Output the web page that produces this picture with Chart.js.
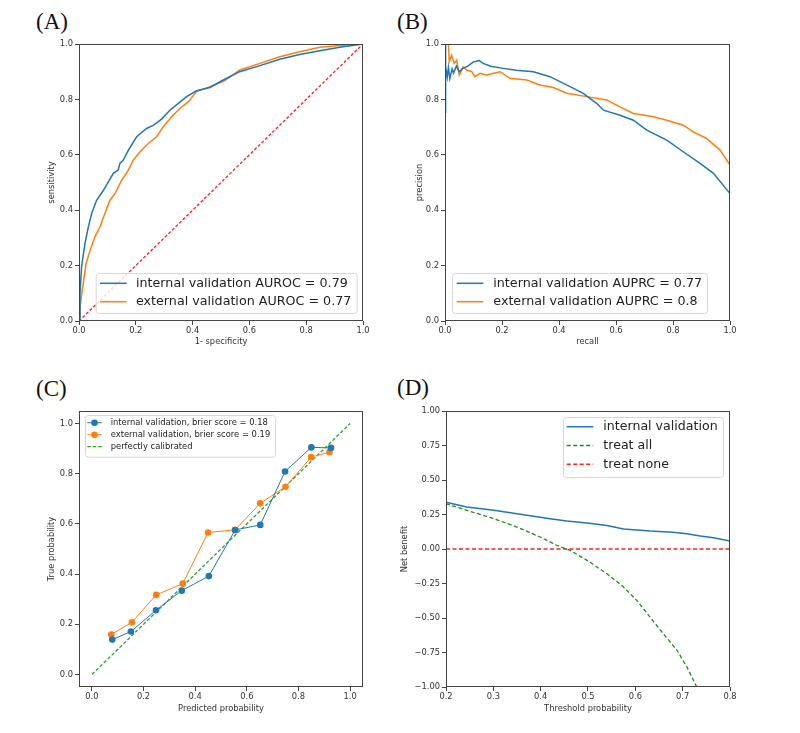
<!DOCTYPE html>
<html>
<head>
<meta charset="utf-8">
<script src="https://cdn.jsdelivr.net/npm/chart.js@4.4.0/dist/chart.umd.min.js"></script>
<style>
  body { margin: 0; background: #fff; }
  #page { position: relative; width: 800px; height: 733px; }
  canvas { position: absolute; }
  .tag { position: absolute; font-family: "Liberation Serif", serif; font-size: 23px; line-height: 23px; color: #111; }
</style>
</head>
<body>
<div id="page">
  <div class="tag" style="left:36px;top:10px">(A)</div>
  <div class="tag" style="left:397px;top:10px">(B)</div>
  <div class="tag" style="left:36px;top:377px">(C)</div>
  <div class="tag" style="left:397px;top:376px">(D)</div>
  <canvas id="chartRoc" width="400" height="366" style="left:0;top:0"></canvas>
  <canvas id="chartPr" width="400" height="366" style="left:400px;top:0"></canvas>
  <canvas id="chartCal" width="400" height="367" style="left:0;top:366px"></canvas>
  <canvas id="chartDca" width="400" height="367" style="left:400px;top:366px"></canvas>
</div>
<script>
// ROC (A)
var rocFprInt = [0, 0.0035, 0.009, 0.021, 0.033, 0.045, 0.062, 0.086, 0.109, 0.121, 0.138, 0.144, 0.156, 0.174, 0.203, 0.238, 0.261, 0.29, 0.32, 0.343, 0.379, 0.414, 0.461, 0.508, 0.566, 0.637, 0.707, 0.777, 0.848, 0.918, 1];
var rocTprInt = [0, 0.099, 0.195, 0.28, 0.34, 0.39, 0.436, 0.472, 0.512, 0.533, 0.545, 0.569, 0.581, 0.617, 0.665, 0.695, 0.706, 0.728, 0.761, 0.78, 0.81, 0.831, 0.843, 0.87, 0.9, 0.922, 0.945, 0.962, 0.976, 0.988, 1];
var rocFprExt = [0, 0.0035, 0.013, 0.025, 0.039, 0.056, 0.074, 0.091, 0.109, 0.127, 0.15, 0.174, 0.191, 0.215, 0.244, 0.273, 0.297, 0.326, 0.355, 0.385, 0.414, 0.461, 0.508, 0.566, 0.637, 0.707, 0.777, 0.848, 0.918, 1];
var rocTprExt = [0, 0.05, 0.123, 0.207, 0.255, 0.304, 0.34, 0.388, 0.436, 0.46, 0.508, 0.545, 0.581, 0.611, 0.641, 0.665, 0.701, 0.737, 0.767, 0.792, 0.828, 0.846, 0.864, 0.906, 0.93, 0.954, 0.972, 0.988, 0.995, 1];
var chanceLine = [0, 1];

// precision-recall (B)
var prRecInt = [0, 0.001, 0.003, 0.008, 0.012, 0.017, 0.025, 0.03, 0.04, 0.05, 0.06, 0.08, 0.1, 0.12, 0.134, 0.16, 0.205, 0.25, 0.31, 0.368, 0.439, 0.485, 0.532, 0.556, 0.614, 0.661, 0.708, 0.778, 0.836, 0.895, 0.942, 1];
var prPrecInt = [1, 0.75, 0.92, 0.88, 0.915, 0.875, 0.91, 0.895, 0.92, 0.9, 0.91, 0.92, 0.935, 0.94, 0.93, 0.92, 0.912, 0.905, 0.9, 0.882, 0.846, 0.822, 0.786, 0.761, 0.743, 0.725, 0.689, 0.653, 0.611, 0.569, 0.533, 0.46];
var prRecExt = [0.012, 0.015, 0.023, 0.032, 0.041, 0.05, 0.064, 0.076, 0.094, 0.105, 0.123, 0.146, 0.193, 0.228, 0.287, 0.333, 0.38, 0.427, 0.497, 0.567, 0.614, 0.661, 0.731, 0.778, 0.836, 0.871, 0.918, 0.965, 1];
var prPrecExt = [1, 0.936, 0.96, 0.93, 0.942, 0.888, 0.918, 0.906, 0.9, 0.882, 0.894, 0.888, 0.9, 0.876, 0.87, 0.852, 0.843, 0.822, 0.81, 0.798, 0.773, 0.749, 0.737, 0.725, 0.707, 0.683, 0.659, 0.617, 0.563];

// calibration (C)
var calPredInt = [0.079, 0.151, 0.248, 0.348, 0.453, 0.555, 0.652, 0.748, 0.85, 0.926];
var calTrueInt = [0.139, 0.171, 0.256, 0.334, 0.392, 0.576, 0.596, 0.809, 0.905, 0.903];
var calPredExt = [0.075, 0.155, 0.249, 0.352, 0.45, 0.554, 0.652, 0.75, 0.849, 0.92];
var calTrueExt = [0.159, 0.208, 0.317, 0.362, 0.566, 0.576, 0.682, 0.748, 0.866, 0.886];

// decision curve (D)
var dcaThrModel = [0.2, 0.244, 0.301, 0.336, 0.385, 0.42, 0.455, 0.498, 0.54, 0.575, 0.596, 0.631, 0.68, 0.709, 0.737, 0.765, 0.8];
var dcaNbModel = [0.338, 0.304, 0.28, 0.263, 0.237, 0.22, 0.203, 0.188, 0.171, 0.145, 0.14, 0.13, 0.121, 0.111, 0.094, 0.082, 0.058];
var dcaThrAll = [0.2, 0.244, 0.301, 0.35, 0.399, 0.434, 0.462, 0.498, 0.54, 0.575, 0.603, 0.631, 0.659, 0.688, 0.709, 0.728, 0.735];
var dcaNbAll = [0.328, 0.28, 0.22, 0.159, 0.087, 0.027, -0.01, -0.082, -0.179, -0.275, -0.372, -0.493, -0.614, -0.734, -0.855, -0.988, -1.02];
var dcaThrNone = [0.2, 0.8];
var dcaNbNone = [0, 0];

var unitTicks = [0, 0.2, 0.4, 0.6, 0.8, 1];
var dcaXTicks = [0.2, 0.3, 0.4, 0.5, 0.6, 0.7, 0.8];
var dcaYTicks = [-1, -0.75, -0.5, -0.25, 0, 0.25, 0.5, 0.75, 1];

Chart.defaults.font.family = "'DejaVu Sans', sans-serif";
Chart.defaults.font.size = 8.3;
Chart.defaults.color = "#333";

function pts(xs, ys) {
    return xs.map(function (x, i) { return {x: x, y: ys[i]}; });
}

// axes frame (all four spines)
var frame = {
    id: "frame",
    afterDatasetsDraw: function (chart) {
        var a = chart.chartArea, ctx = chart.ctx;
        ctx.save();
        ctx.strokeStyle = "#444";
        ctx.lineWidth = 1;
        ctx.strokeRect(Math.round(a.left) + 0.5, Math.round(a.top) + 0.5,
            Math.round(a.right - a.left) - 1, Math.round(a.bottom - a.top) - 1);
        ctx.restore();
    },
};

// matplotlib style legend box inside the axes
var boxLegend = {
    id: "boxLegend",
    afterDatasetsDraw: function (chart, args, o) {
        if (!o || o.w == null) return;
        var ctx = chart.ctx, a = chart.chartArea;
        var x = a.left + o.x, y = a.top + o.y;
        var n = o.rows || chart.data.datasets.length;
        ctx.save();
        ctx.fillStyle = "rgba(255,255,255,0.8)";
        ctx.strokeStyle = "#d6d6d6";
        ctx.lineWidth = 1;
        ctx.beginPath();
        ctx.roundRect(x + 0.5, y + 0.5, o.w, o.h, 3);
        ctx.fill();
        ctx.stroke();
        ctx.font = o.size + "px 'DejaVu Sans'";
        ctx.textBaseline = "middle";
        chart.data.datasets.slice(0, n).forEach(function (ds, i) {
            var cy = y + o.first + i * o.step;
            ctx.strokeStyle = ds.borderColor;
            ctx.lineWidth = ds.borderWidth;
            ctx.setLineDash(ds.borderDash || []);
            ctx.beginPath();
            ctx.moveTo(x + o.l0, cy);
            ctx.lineTo(x + o.l1, cy);
            ctx.stroke();
            ctx.setLineDash([]);
            if (ds.pointRadius) {
                ctx.fillStyle = ds.borderColor;
                ctx.beginPath();
                ctx.arc(x + (o.l0 + o.l1) / 2, cy, ds.pointRadius, 0, 2 * Math.PI);
                ctx.fill();
            }
            ctx.fillStyle = "#222";
            ctx.fillText(ds.label, x + o.tx, cy);
        });
        ctx.restore();
    },
};
Chart.register(frame, boxLegend);

function axis(o) {
    return {
        type: "linear",
        min: o.min,
        max: o.max,
        afterBuildTicks: function (s) { s.ticks = o.ticks.map(function (v) { return {value: v}; }); },
        afterFit: function (s) { if (o.size != null) { if (s.isHorizontal()) s.height = o.size; else s.width = o.size; } },
        grid: {drawOnChartArea: false, drawTicks: true, tickLength: 4, color: "#444"},
        border: {display: false},
        ticks: {padding: o.horizontal ? 1 : 2, color: "#333", maxRotation: 0, autoSkip: false, callback: o.fmt},
        title: {display: true, text: o.title, color: "#333", padding: o.titlePad},
    };
}

function fmt1(v) { return v.toFixed(1); }
function fmt2(v) { return (v < 0 ? "\u2212" : "") + Math.abs(v).toFixed(2); }

function baseOptions(pad, xAxis, yAxis, legendBox) {
    return {
        responsive: false,
        animation: false,
        layout: {padding: pad},
        elements: {point: {radius: 0}, line: {tension: 0}},
        scales: {x: xAxis, y: yAxis},
        plugins: {legend: {display: false}, tooltip: {enabled: false}, boxLegend: legendBox},
    };
}

var ctxRoc = document.getElementById("chartRoc").getContext("2d");
var chartRoc = new Chart(ctxRoc, {
    type: "line",
    data: {
        datasets: [{
            label: "internal validation AUROC = 0.79",
            data: pts(rocFprInt, rocTprInt),
            borderColor: "#1f77b4",
            borderWidth: 1.5,
        }, {
            label: "external validation AUROC = 0.77",
            data: pts(rocFprExt, rocTprExt),
            borderColor: "#ff7f0e",
            borderWidth: 1.5,
        }, {
            label: "",
            data: pts(chanceLine, chanceLine),
            borderColor: "#ff1a1a",
            borderWidth: 1.3,
            borderDash: [3, 2],
        }],
    },
    options: baseOptions(
        {left: 0, top: 44, right: 37, bottom: 15},
        axis({min: 0, max: 1, ticks: unitTicks, fmt: fmt1, size: 30, horizontal: true, title: "1- specificity", titlePad: {bottom: 4.3}}),
        axis({min: 0, max: 1, ticks: unitTicks, fmt: fmt1, size: 79, title: "sensitivity", titlePad: {top: 46.7}}),
        {x: 16.7, y: 229, w: 261, h: 40, first: 10.3, step: 18.4, l0: 4.3, l1: 31, tx: 40.3, size: 12.7, rows: 2}
    ),
});

var ctxPr = document.getElementById("chartPr").getContext("2d");
var chartPr = new Chart(ctxPr, {
    type: "line",
    data: {
        datasets: [{
            label: "internal validation AUPRC = 0.77",
            data: pts(prRecInt, prPrecInt),
            borderColor: "#1f77b4",
            borderWidth: 1.5,
        }, {
            label: "external validation AUPRC = 0.8",
            data: pts(prRecExt, prPrecExt),
            borderColor: "#ff7f0e",
            borderWidth: 1.5,
        }],
    },
    options: baseOptions(
        {left: 0, top: 44, right: 70, bottom: 15},
        axis({min: 0, max: 1, ticks: unitTicks, fmt: fmt1, size: 30, horizontal: true, title: "recall", titlePad: {bottom: 4.3}}),
        axis({min: 0, max: 1, ticks: unitTicks, fmt: fmt1, size: 45, title: "precision", titlePad: {top: 15}}),
        {x: 7, y: 229, w: 255, h: 40, first: 10.3, step: 18.4, l0: 4.7, l1: 31.3, tx: 41.3, size: 12.7}
    ),
});

var ctxCal = document.getElementById("chartCal").getContext("2d");
var chartCal = new Chart(ctxCal, {
    type: "line",
    data: {
        datasets: [{
            label: "internal validation, brier score = 0.18",
            data: pts(calPredInt, calTrueInt),
            borderColor: "#1f77b4",
            backgroundColor: "#1f77b4",
            borderWidth: 1,
            pointRadius: 3.3,
            pointBorderWidth: 0,
        }, {
            label: "external validation, brier score = 0.19",
            data: pts(calPredExt, calTrueExt),
            borderColor: "#ff7f0e",
            backgroundColor: "#ff7f0e",
            borderWidth: 1,
            pointRadius: 3.3,
            pointBorderWidth: 0,
        }, {
            label: "perfectly calibrated",
            data: pts(chanceLine, chanceLine),
            borderColor: "#2ca02c",
            borderWidth: 1.3,
            borderDash: [3.5, 2],
        }],
    },
    options: baseOptions(
        {left: 0, top: 45, right: 37, bottom: 16},
        axis({min: -0.05, max: 1.05, ticks: unitTicks, fmt: fmt1, size: 30, horizontal: true, title: "Predicted probability", titlePad: {bottom: 3}}),
        axis({min: -0.05, max: 1.05, ticks: unitTicks, fmt: fmt1, size: 79, title: "True probability", titlePad: {top: 46.7}}),
        {x: 6, y: 4, w: 190, h: 41.7, first: 7.7, step: 12, l0: 2.3, l1: 16.7, tx: 25.7, size: 8.4}
    ),
});

var ctxDca = document.getElementById("chartDca").getContext("2d");
var chartDca = new Chart(ctxDca, {
    type: "line",
    data: {
        datasets: [{
            label: "internal validation",
            data: pts(dcaThrModel, dcaNbModel),
            borderColor: "#1f77b4",
            borderWidth: 1.5,
        }, {
            label: "treat all",
            data: pts(dcaThrAll, dcaNbAll),
            borderColor: "#1a8c1a",
            borderWidth: 1.3,
            borderDash: [4, 2.5],
        }, {
            label: "treat none",
            data: pts(dcaThrNone, dcaNbNone),
            borderColor: "#ff2020",
            borderWidth: 1.5,
            borderDash: [4, 2.5],
        }],
    },
    options: baseOptions(
        {left: 0, top: 45, right: 70, bottom: 16},
        axis({min: 0.2, max: 0.8, ticks: dcaXTicks, fmt: fmt1, size: 30, horizontal: true, title: "Threshold probability", titlePad: {bottom: 3}}),
        axis({min: -1, max: 1, ticks: dcaYTicks, fmt: fmt2, size: 46, title: "Net benefit", titlePad: {top: 0}}),
        {x: 117, y: 6, w: 160, h: 60, first: 9.7, step: 18.8, l0: 3.7, l1: 30.3, tx: 40.3, size: 12.6}
    ),
});
</script>
</body>
</html>
